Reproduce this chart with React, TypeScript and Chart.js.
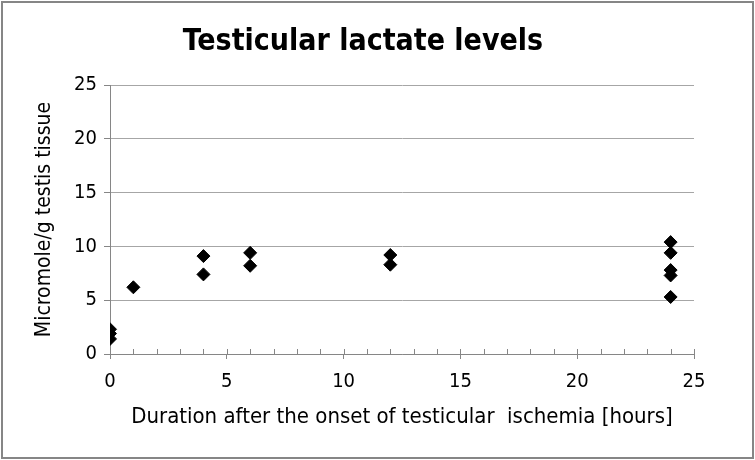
import React, { useEffect, useRef } from 'react';
import { Chart, registerables } from 'chart.js';

Chart.register(...registerables);

const chartTitle = 'Testicular lactate levels';
const xAxisTitle = 'Duration after the onset of testicular  ischemia [hours]';
const yAxisTitle = 'Micromole/g testis tissue';

const hours = [0, 0, 0, 1, 4, 4, 6, 6, 12, 12, 24, 24, 24, 24, 24];
const lactate = [2.3, 1.9, 1.4, 6.2, 9.1, 7.4, 9.4, 8.2, 9.2, 8.3, 10.4, 9.4, 7.8, 7.3, 5.3];

const xMin = 0;
const xMax = 25;
const yMin = 0;
const yMax = 25;
const majorStep = 5;
const minorStep = 1;

const FONT = '"Liberation Sans Narrow", "Arial Narrow", "DejaVu Sans Condensed", sans-serif';
const AXIS_COLOR = '#868686';
const GRID_COLOR = '#a6a6a6';

const frameAndMinorTicks = {
  id: 'frameAndMinorTicks',
  beforeDraw(chart: any) {
    const { ctx, width, height } = chart;
    ctx.save();
    ctx.fillStyle = '#ffffff';
    ctx.fillRect(0, 0, width, height);
    ctx.restore();
  },
  afterDatasetsDraw(chart: any) {
    const { ctx, width, height } = chart;
    const xs = chart.scales.x;
    const bottom = chart.chartArea.bottom;
    ctx.save();
    ctx.strokeStyle = AXIS_COLOR;
    ctx.lineWidth = 1;
    for (let v = xMin; v <= xMax; v += minorStep) {
      const px = Math.round(xs.getPixelForValue(v)) + 0.5;
      ctx.beginPath();
      ctx.moveTo(px, bottom);
      ctx.lineTo(px, bottom - 5);
      ctx.stroke();
    }
    ctx.restore();
    ctx.save();
    ctx.strokeStyle = AXIS_COLOR;
    ctx.lineWidth = 2;
    ctx.strokeRect(2, 2, width - 4, height - 4);
    ctx.restore();
  },
};

export default function App() {
  const ref = useRef<HTMLCanvasElement>(null);

  useEffect(() => {
    if (!ref.current) return;
    const points = hours.map((h, i) => ({ x: h, y: lactate[i] }));
    const chart = new Chart(ref.current, {
      type: 'scatter',
      data: {
        datasets: [
          {
            data: points,
            pointStyle: 'rectRot',
            pointRadius: 6.5,
            pointBorderWidth: 1,
            pointBackgroundColor: '#000000',
            pointBorderColor: '#000000',
          },
        ],
      },
      options: {
        responsive: false,
        animation: false,
        devicePixelRatio: 1,
        layout: { padding: { left: 32, right: 61, top: 10, bottom: 20 } },
        plugins: {
          legend: { display: false },
          tooltip: { enabled: false },
          title: {
            display: true,
            text: chartTitle,
            color: '#000000',
            font: { family: FONT, size: 30, weight: 'bold' },
            padding: { top: 14, bottom: 25 },
          },
        },
        scales: {
          x: {
            type: 'linear',
            min: xMin,
            max: xMax,
            afterFit: (s: any) => {
              s.height = 86;
            },
            ticks: {
              stepSize: majorStep,
              color: '#000000',
              font: { family: FONT, size: 20 },
              padding: 11,
              maxRotation: 0,
            },
            grid: {
              display: true,
              drawOnChartArea: false,
              drawTicks: true,
              tickLength: 5,
              tickColor: AXIS_COLOR,
              color: AXIS_COLOR,
            },
            border: { display: true, color: AXIS_COLOR, width: 1 },
            title: {
              display: true,
              text: xAxisTitle,
              color: '#000000',
              font: { family: FONT, size: 22 },
              padding: { top: 0, bottom: 10 },
            },
          },
          y: {
            type: 'linear',
            min: yMin,
            max: yMax,
            afterFit: (s: any) => {
              s.width = 78;
            },
            ticks: {
              stepSize: majorStep,
              color: '#000000',
              font: { family: FONT, size: 20 },
              padding: 7,
            },
            grid: {
              display: true,
              drawOnChartArea: true,
              drawTicks: true,
              tickLength: 6,
              color: GRID_COLOR,
              tickColor: AXIS_COLOR,
            },
            border: { display: true, color: AXIS_COLOR, width: 1 },
            title: {
              display: true,
              text: yAxisTitle,
              color: '#000000',
              font: { family: FONT, size: 21 },
              padding: { top: 0, bottom: 0 },
            },
          },
        },
      },
      plugins: [frameAndMinorTicks],
    });
    return () => chart.destroy();
  }, []);

  return (
    <div style={{ position: 'absolute', left: 0, top: 0, width: 755, height: 460, background: '#fff' }}>
      <canvas ref={ref} width={755} height={460} style={{ display: 'block' }} />
    </div>
  );
}
